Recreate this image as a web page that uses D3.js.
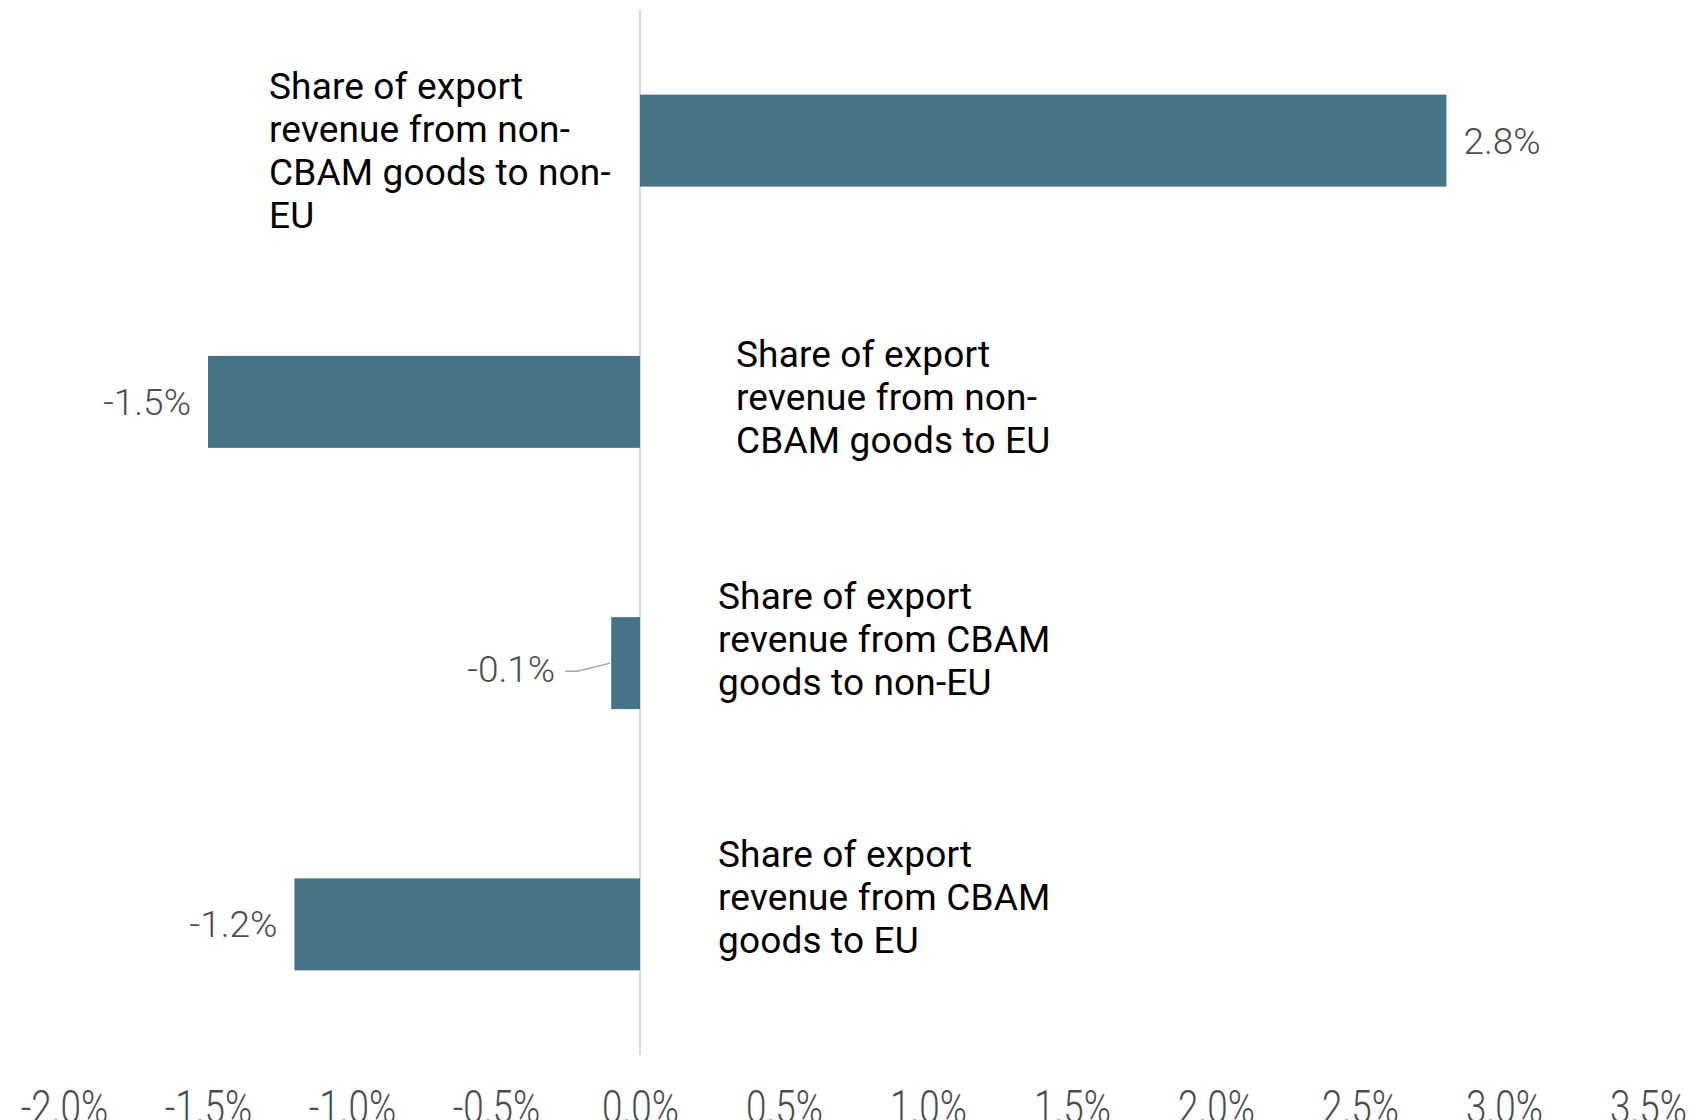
<!DOCTYPE html>
<html>
<head>
<meta charset="utf-8">
<script src="https://cdn.jsdelivr.net/npm/d3@7"></script>
<style>
  html, body { margin: 0; padding: 0; background: #fff; }
  svg { display: block; }
</style>
</head>
<body>
<svg id="chart" width="1695" height="1120"></svg>
<script>
// ---- data ----
const categories = [
  "Share of export revenue from non-CBAM goods to non-EU",
  "Share of export revenue from non-CBAM goods to EU",
  "Share of export revenue from CBAM goods to non-EU",
  "Share of export revenue from CBAM goods to EU"
];
const categoryLines = [
  ["Share of export", "revenue from non-", "CBAM goods to non-", "EU"],
  ["Share of export", "revenue from non-", "CBAM goods to EU"],
  ["Share of export", "revenue from CBAM", "goods to non-EU"],
  ["Share of export", "revenue from CBAM", "goods to EU"]
];
const values = [2.8, -1.5, -0.1, -1.2];
const tickValues = [-2.0, -1.5, -1.0, -0.5, 0.0, 0.5, 1.0, 1.5, 2.0, 2.5, 3.0, 3.5];

// ---- layout (not data) ----
const catLabelLayout = [
  { dx: -371, dy: -42 },
  { dx: 96, dy: -35 },
  { dx: 78, dy: -54 },
  { dx: 78, dy: -57 }
];

const svg = d3.select("#chart");
const plotTop = 10, plotBottom = 1055;

const x = d3.scaleLinear().domain([-2.0, 3.5]).range([64, 1648]);
const y = d3.scaleBand().domain(categories).range([plotTop, plotBottom])
  .paddingInner(0.648).paddingOuter(0.324);

const fmt = v => v.toFixed(1) + "%";
const barColor = "#477387";

// zero line
svg.append("line")
  .attr("x1", x(0)).attr("x2", x(0))
  .attr("y1", plotTop).attr("y2", plotBottom)
  .attr("stroke", "#d9d9d9").attr("stroke-width", 2);

// bars
const data = categories.map((c, i) => ({ c, v: values[i], lines: categoryLines[i], lay: catLabelLayout[i] }));
svg.append("g").selectAll("rect").data(data).join("rect")
  .attr("x", d => x(Math.min(0, d.v)))
  .attr("width", d => Math.abs(x(d.v) - x(0)))
  .attr("y", d => y(d.c))
  .attr("height", y.bandwidth())
  .attr("fill", barColor);

// value labels
const vl = svg.append("g")
  .attr("font-family", "Roboto, sans-serif")
  .attr("font-size", 37)
  .attr("font-weight", 300)
  .attr("fill", "#4d4d4d");
data.forEach(d => {
  const cy = y(d.c) + y.bandwidth() / 2;
  if (Math.abs(d.v) < 0.3) {
    const endX = x(d.v);
    const lx = endX - 56;
    vl.append("text")
      .attr("x", lx).attr("y", cy + 6).attr("dy", "0.35em")
      .attr("text-anchor", "end").text(fmt(d.v));
    svg.append("path")
      .attr("d", `M${lx + 10},${cy + 8} L${lx + 22},${cy + 8} L${endX - 1},${cy}`)
      .attr("fill", "none").attr("stroke", "#a6a6a6").attr("stroke-width", 1.5);
  } else if (d.v >= 0) {
    vl.append("text")
      .attr("x", x(d.v) + 17).attr("y", cy).attr("dy", "0.35em")
      .attr("text-anchor", "start").text(fmt(d.v));
  } else {
    vl.append("text")
      .attr("x", x(d.v) - 17).attr("y", cy).attr("dy", "0.35em")
      .attr("text-anchor", "end").text(fmt(d.v));
  }
});

// category labels
const cl = svg.append("g")
  .attr("font-family", "Roboto, sans-serif")
  .attr("font-size", 37)
  .attr("letter-spacing", 0.15)
  .attr("fill", "#000");
data.forEach(d => {
  const cy = y(d.c) + y.bandwidth() / 2;
  const t = cl.append("text")
    .attr("x", x(0) + d.lay.dx)
    .attr("y", cy + d.lay.dy);
  d.lines.forEach((ln, j) => {
    t.append("tspan")
      .attr("x", x(0) + d.lay.dx)
      .attr("y", cy + d.lay.dy + j * 43)
      .text(ln);
  });
});

// x axis
const axis = d3.axisBottom(x)
  .tickValues(tickValues)
  .tickFormat(fmt)
  .tickSize(0)
  .tickPadding(35);
const ag = svg.append("g")
  .attr("transform", `translate(0,${plotBottom})`)
  .call(axis);
ag.select(".domain").remove();
ag.selectAll(".tick text")
  .attr("font-family", "Roboto, sans-serif")
  .attr("font-size", 46)
  .attr("font-weight", 300)
  .attr("fill", "#4d4d4d")
  .attr("transform", "scale(0.8,1)");
</script>
</body>
</html>
